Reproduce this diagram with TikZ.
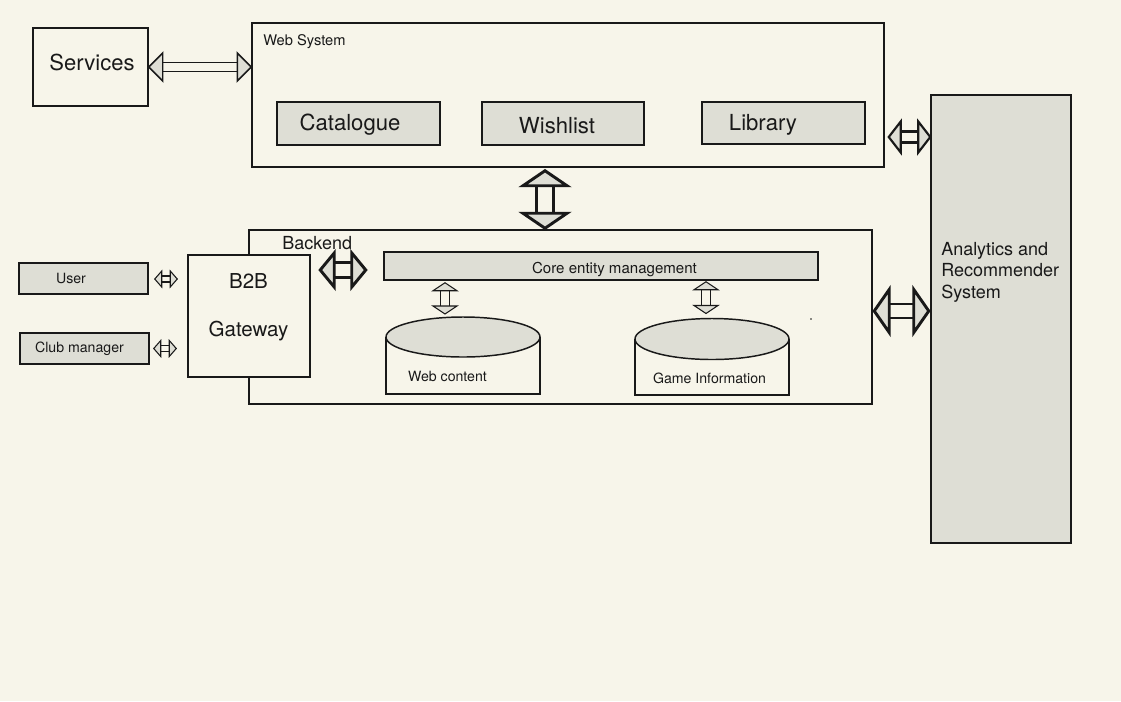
\documentclass[tikz,border=0pt]{standalone}
\usepackage{fontspec}
\setmainfont{TeX Gyre Heros}
\usetikzlibrary{calc}
\definecolor{bg}{RGB}{247,245,234}
\definecolor{boxgray}{RGB}{222,222,213}
\definecolor{ink}{RGB}{25,25,25}
\newcommand\harr[6]{%
 \draw[#6] ($#1+(#4,#5)$) -- ($#2+(-#4,#5)$) ($#1+(#4,-#5)$) -- ($#2+(-#4,-#5)$);
 \draw[#6,fill=boxgray] #1 -- ($#1+(#4,-#3)$) -- ($#1+(#4,#3)$) -- cycle;
 \draw[#6,fill=boxgray] #2 -- ($#2+(-#4,-#3)$) -- ($#2+(-#4,#3)$) -- cycle;}
\newcommand\varr[6]{%
 \draw[#6] ($#1+(#5,#4)$) -- ($#2+(#5,-#4)$) ($#1+(-#5,#4)$) -- ($#2+(-#5,-#4)$);
 \draw[#6,fill=boxgray] #1 -- ($#1+(-#3,#4)$) -- ($#1+(#3,#4)$) -- cycle;
 \draw[#6,fill=boxgray] #2 -- ($#2+(-#3,-#4)$) -- ($#2+(#3,-#4)$) -- cycle;}
\begin{document}
\begin{tikzpicture}[x=0.75pt,y=-0.75pt,
  plainbox/.style={draw=ink,line width=1.1pt,fill=bg,inner sep=0pt},
  graybox/.style={plainbox,fill=boxgray},
  txt/.style={inner sep=0pt,text=ink},
  thinarr/.style={draw=ink,line width=1.1pt,line join=miter},
  tinyarr/.style={draw=ink,line width=0.8pt,line join=miter},
  midarr/.style={draw=ink,line width=1.6pt,line join=miter},
  fatarr/.style={draw=ink,line width=2.2pt,line join=miter}]
\fill[bg] (0,0) rectangle (1121,701);
\useasboundingbox (0,0) rectangle (1121,701);
% boxes
\node[plainbox,minimum width=86.25pt,minimum height=58.5pt] (svc) at (90.5,67) {};
\node[plainbox,minimum width=474pt,minimum height=108pt] (web) at (568,95) {};
\node[graybox,minimum width=122.25pt,minimum height=32.25pt] (cat) at (358.5,123.5) {};
\node[graybox,minimum width=121.5pt,minimum height=32.25pt] (wish) at (563,123.5) {};
\node[graybox,minimum width=122.25pt,minimum height=31.5pt] (lib) at (783.5,123) {};
\node[plainbox,minimum width=467.25pt,minimum height=130.5pt] (back) at (560.5,317) {};
\node[plainbox,minimum width=91.5pt,minimum height=91.5pt] (gw) at (249,316) {};
\node[graybox,minimum width=96.75pt,minimum height=23.25pt] (user) at (83.5,278.5) {};
\node[graybox,minimum width=96.75pt,minimum height=23.25pt] (club) at (84.5,348.5) {};
\node[graybox,minimum width=325.5pt,minimum height=21pt] (core) at (601,266) {};
\node[graybox,minimum width=105pt,minimum height=336pt] (ana) at (1001,319) {};
% cylinders
\draw[ink,line width=1.1pt,fill=bg] (386,337) -- (386,394) -- (540,394) -- (540,337);
\draw[ink,line width=1.1pt,fill=boxgray] (463,337) ellipse [x radius=77,y radius=20];
\coordinate (wcTop) at (463,317);
\draw[ink,line width=1.1pt,fill=bg] (635,339) -- (635,395) -- (789,395) -- (789,339);
\draw[ink,line width=1.1pt,fill=boxgray] (712,339) ellipse [x radius=77,y radius=20.5];
\coordinate (giTop) at (712,318.5);
\fill[ink] (811,319) circle [radius=0.9];
% texts
\node[txt,font=\fontsize{16.5}{19}\selectfont] (svcT) at (92,62) {Services};
\node[txt,anchor=west,font=\fontsize{11}{13}\selectfont] (webT) at (263,42) {Web System};
\node[txt,font=\fontsize{16.6}{19}\selectfont] (catT) at (350,125) {Catalogue};
\node[txt,font=\fontsize{16.6}{19}\selectfont] (wishT) at (557,126) {Wishlist};
\node[txt,font=\fontsize{16.6}{19}\selectfont] (libT) at (763,125) {Library};
\node[txt,anchor=west,font=\fontsize{13.5}{16}\selectfont] (backT) at (282,243) {Backend};
\node[txt,font=\fontsize{15.4}{18}\selectfont] (gwT1) at (248.5,281) {B2B};
\node[txt,font=\fontsize{15.4}{18}\selectfont] (gwT2) at (248.5,331) {Gateway};
\node[txt,font=\fontsize{10.6}{12}\selectfont] (userT) at (71,278.5) {User};
\node[txt,font=\fontsize{10.6}{12}\selectfont] (clubT) at (79.5,349) {Club manager};
\node[txt,font=\fontsize{11.3}{13}\selectfont] (coreT) at (614.5,270) {Core entity management};
\node[txt,font=\fontsize{10.6}{12}\selectfont] (wcT) at (447.5,376.5) {Web content};
\node[txt,font=\fontsize{10.6}{12}\selectfont] (giT) at (709.5,378.5) {Game Information};
\node[txt,anchor=west,align=left,font=\fontsize{13.5}{16.1}\selectfont] (anaT) at (941,272) {Analytics and\\Recommender\\System};
% connectors
\harr{(svc.east)}{(web.west |- svc.east)}{14}{14}{4.5}{thinarr}
\coordinate (wa1) at ($(web.east)+(4,42)$);
\harr{(wa1)}{(ana.west |- wa1)}{15.5}{12}{5.5}{midarr}
\coordinate (wb1) at ($(web.south)+(-23,3)$);
\coordinate (wb2) at ($(back.north)+(-15.5,-1)$);
\varr{(wb1)}{(wb2)}{22}{15}{8.5}{fatarr}
\coordinate (ba1) at ($(back.east)+(1.5,-6)$);
\harr{(ba1)}{($(ana.west |- ba1)+(-1.5,0)$)}{21.5}{15}{7}{fatarr}
\coordinate (gc1) at ($(gw.east)+(9.5,-46)$);
\coordinate (gc2) at ($(core.west)+(-17.5,4)$);
\harr{(gc1)}{(gc2)}{17}{14}{7.5}{fatarr}
\coordinate (ug1) at ($(user.east)+(6,0.5)$);
\harr{(ug1)}{($(gw.west |- ug1)+(-10,0)$)}{8}{7}{3}{tinyarr}
\coordinate (cg1) at ($(club.east)+(4,0)$);
\harr{(cg1)}{($(gw.west |- cg1)+(-11,0)$)}{8}{7}{3}{tinyarr}
\coordinate (cw1) at ($(core.south)+(-156,2)$);
\varr{(cw1)}{($(wcTop)+(-18,-3)$)}{12}{8}{4.5}{tinyarr}
\coordinate (cg2) at ($(core.south)+(105,1)$);
\varr{(cg2)}{($(giTop)+(-6,-5)$)}{12}{8}{4.5}{tinyarr}
\end{tikzpicture}
\end{document}
